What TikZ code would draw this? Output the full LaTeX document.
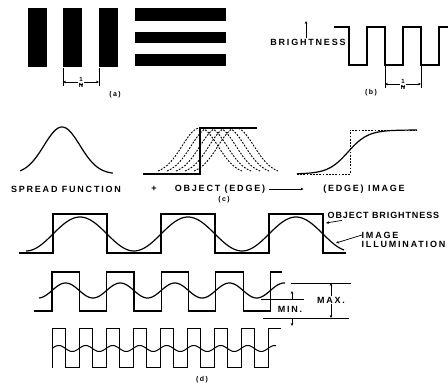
\documentclass[tikz,border=0pt]{standalone}
\usepackage{fontspec}
\newfontfamily\lblfont[LetterSpace=20]{Liberation Sans}
\usetikzlibrary{arrows.meta}
\begin{document}
\begin{tikzpicture}[x=1pt,y=-1pt,
  lbl/.style={font=\lblfont\bfseries\fontsize{9}{9.5}\selectfont,inner sep=0.5pt},
  tag/.style={font=\lblfont\bfseries\fontsize{7}{7}\selectfont,inner sep=0.5pt},
  frac/.style={font=\lblfont\bfseries\fontsize{6}{6.5}\selectfont,inner sep=0.5pt,align=center},
  dim/.style={line width=0.7pt,-{Stealth[length=3pt,width=2.6pt]}},
  tick/.style={line width=0.8pt},
  wave/.style={line width=1.2pt},
  curve/.style={line width=1.2pt},
  dots/.style={line width=0.9pt,dash pattern=on 1.8pt off 1.4pt}]
\useasboundingbox (0,0) rectangle (448,385);
\fill (28,8) rectangle (47,67);
\fill (63,8) rectangle (82,67);
\fill (99,8) rectangle (118,67);
\fill (135,8) rectangle (226,21);
\fill (135,32) rectangle (226,43);
\fill (135,54) rectangle (226,66);
\draw[tick] (63,68) -- (63,86);
\draw[tick] (99,68) -- (99,86);
\node[frac] (fa) at (81,82) {1\\[-3.5pt]\rule{3.5pt}{0.4pt}\\[-3.5pt]N};
\coordinate (fal) at (63,82); \coordinate (far) at (99,82);
\draw[dim] (fa) -- (fal); \draw[dim] (fa) -- (far);
\node[tag] (atag) at (115,95) {(a)};
\node[lbl] (bright) at (308,42) {BRIGHTNESS};
\coordinate (btip) at (306,21);
\draw[dim] (bright.north -| btip) -- (btip);
\draw[wave] (334,27) -- (349,27) \foreach \k in {1,2} {-- ++(0,38) -- ++(18,0) -- ++(0,-38) -- ++(18,0)} -- ++(0,38) -- ++(18,0) -- ++(0,-38) -- (448,27);
\draw[tick] (385,66) -- (385,88);
\draw[tick] (421,66) -- (421,88);
\node[frac] (fb) at (403,84) {1\\[-3.5pt]\rule{3.5pt}{0.4pt}\\[-3.5pt]N};
\coordinate (fbl) at (385,84); \coordinate (fbr) at (421,84);
\draw[dim] (fb) -- (fbl); \draw[dim] (fb) -- (fbr);
\node[tag] (btag) at (371,93) {(b)};
\draw[curve] plot[domain=20:113,samples=80] (\x,{174-47*exp(-(\x-62)*(\x-62)/648)});
\foreach \c in {200,209,218,227,236}
  \draw[dots] plot[domain=\c-42:\c+42,samples=60] (\x,{174-46*exp(-(\x-\c)*(\x-\c)/648)});
\draw[line width=1.8pt] (143,174) -- (200,174) -- (200,128) -- (257,128);
\draw[dots] (297,174) -- (350,174) -- (350,130) -- (417,130);
\draw[curve] plot[domain=297:417,samples=100] (\x,{174-44/(1+exp(-(\x-348)/10))});
\node[lbl] (spread) at (66,189) {SPREAD FUNCTION};
\node[lbl] (plus) at (154,189) {+};
\node[lbl] (object) at (220,189) {OBJECT (EDGE)};
\node[lbl] (image) at (364,189) {(EDGE) IMAGE};
\draw[dim,shorten <=3pt,shorten >=19pt] (object) -- (image);
\node[tag] (ctag) at (224,200) {(c)};
\draw[wave] (19,253) -- (53,253) \foreach \k in {1,2} {-- ++(0,-39) -- ++(54,0) -- ++(0,39) -- ++(54,0)} -- ++(0,-39) -- ++(54,0) -- ++(0,39) -- (346,253);
\draw[curve] plot[domain=26:344,samples=160] (\x,{234-17*cos(3.3333*(\x-80))});
\draw[wave] (34,311) -- (52,311) \foreach \k in {1,...,4} {-- ++(0,-39) -- ++(27.3,0) -- ++(0,39) -- ++(27.3,0)} -- ++(0,-39) -- ++(11.5,0);
\draw[curve] plot[domain=39:285,samples=200] (\x,{290.5-7.5*cos(6.5934*(\x-65.65))});
\draw[wave,line width=1pt] (52,368) \foreach \k in {1,...,8} {-- ++(0,-39) -- ++(13.5,0) -- ++(0,39) -- ++(13.5,0)} -- ++(0,-39) -- ++(13,0);
\draw[curve,line width=1pt] plot[domain=52:276,samples=240] (\x,{348.5-3*cos(13.3333*(\x-58.75))});
\node[lbl,anchor=west] (objbr) at (327,215) {\addfontfeature{LetterSpace=10}OBJECT BRIGHTNESS};
\coordinate (objtip) at (326,223);
\draw[dim] ([xshift=15pt,yshift=-1.5pt]objbr.south west) -- (objtip);
\node[lbl,anchor=north west,align=left] (illum) at (361,231.5) {IMAGE\\ILLUMINATION};
\coordinate (illtip) at (336,243);
\draw[dim] ([xshift=1pt,yshift=-3.5pt]illum.north west) -- (illtip);
\draw[tick] (291,283) -- (351,283);
\draw[tick] (261,299) -- (304,299);
\draw[tick] (263,318) -- (349,318);
\node[lbl] (maxl) at (331,300) {MAX.};
\coordinate (maxtop) at (331,283); \coordinate (maxbot) at (331,318);
\draw[dim] (maxl) -- (maxtop); \draw[dim] (maxl) -- (maxbot);
\node[lbl] (minl) at (290,309) {MIN.};
\coordinate (minhi) at (292,299); \coordinate (minup) at (292,291);
\coordinate (minlo) at (292,318); \coordinate (mindn) at (292,326);
\draw[dim] (minhi) -- (minup); \draw[dim] (minlo) -- (mindn);
\node[tag] (dtag) at (202,380) {(d)};
\end{tikzpicture}
\end{document}
